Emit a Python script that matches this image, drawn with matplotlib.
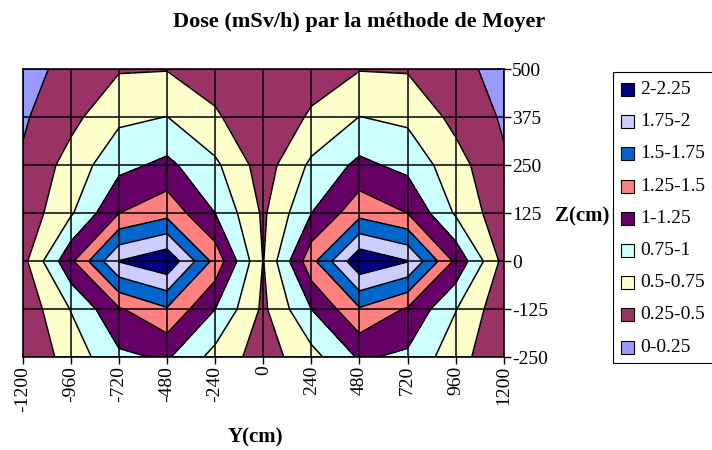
import numpy as np
from matplotlib import pyplot as plt
from matplotlib.patches import Rectangle

# Grid of the measurement points
y_cm = [-1200, -960, -720, -480, -240, 0, 240, 480, 720, 960, 1200]
z_cm = [-250, -125, 0, 125, 250, 375, 500]

# Dose (mSv/h), one row per Z value (bottom to top)
dose_z_m250 = [0.30, 0.60, 0.95, 1.03, 0.66, 0.38, 0.66, 1.03, 0.95, 0.60, 0.30]
dose_z_m125 = [0.32, 0.76, 1.22, 1.47, 1.00, 0.45, 1.00, 1.47, 1.22, 0.76, 0.32]
dose_z_0 = [0.42, 1.20, 2.01, 2.20, 1.42, 0.49, 1.42, 2.20, 2.01, 1.20, 0.42]
dose_z_125 = [0.33, 0.72, 1.25, 1.42, 1.00, 0.46, 1.00, 1.42, 1.25, 0.72, 0.33]
dose_z_250 = [0.28, 0.60, 0.93, 1.06, 0.80, 0.38, 0.80, 1.06, 0.93, 0.60, 0.28]
dose_z_375 = [0.22, 0.43, 0.70, 0.755, 0.53, 0.33, 0.53, 0.755, 0.70, 0.43, 0.22]
dose_z_500 = [0.16, 0.33, 0.48, 0.49, 0.40, 0.30, 0.40, 0.49, 0.48, 0.33, 0.16]

levels = [0, 0.25, 0.5, 0.75, 1.0, 1.25, 1.5, 1.75, 2.0, 2.25]
level_labels = ['0-0.25', '0.25-0.5', '0.5-0.75', '0.75-1', '1-1.25',
                '1.25-1.5', '1.5-1.75', '1.75-2', '2-2.25']
# Excel style palette, lowest band first
band_colors = ['#9999FF', '#993366', '#FFFFCC', '#CCFFFF', '#660066',
               '#FF8080', '#0066CC', '#CCCCFF', '#000080']

plt.rcParams['font.family'] = ['Liberation Serif', 'DejaVu Serif']

dose = np.array([dose_z_m250, dose_z_m125, dose_z_0, dose_z_125,
                 dose_z_250, dose_z_375, dose_z_500])
Y, Z = np.meshgrid(y_cm, z_cm)

W, H = 712, 450
fig = plt.figure(figsize=(W / 100, H / 100), dpi=100)
ax = fig.add_axes([0.032, 0.206, 0.6755, 0.640])

ax.contourf(Y, Z, dose, levels=levels, colors=band_colors)
ax.contour(Y, Z, dose, levels=levels[1:-1], colors='black', linewidths=1.1)

# grid over the bands
for yv in y_cm:
    ax.axvline(yv, color='black', lw=1.1)
for zv in z_cm:
    ax.axhline(zv, color='black', lw=1.1)

ax.set_xlim(-1200, 1200)
ax.set_ylim(-250, 500)
ax.set_xticks(y_cm)
ax.set_xticklabels([str(v) for v in y_cm], rotation=90, fontsize=14)
ax.yaxis.tick_right()
ax.set_yticks(z_cm)
ax.set_yticklabels([str(v) for v in z_cm], fontsize=14)
ax.tick_params(direction='out', length=5, width=1, pad=1)
for sp in ax.spines.values():
    sp.set_linewidth(1.2)

fig.text(0.504, 0.951, 'Dose (mSv/h) par la méthode de Moyer',
         ha='center', va='center', fontsize=16, fontweight='bold')
fig.text(0.358, 0.027, 'Y(cm)', ha='center', va='center',
         fontsize=15, fontweight='bold')
fig.text(555 / W, 1 - 216 / H, 'Z(cm)', ha='left', va='center',
         fontsize=15, fontweight='bold')

# legend box, highest band on top, running off the right edge
fig.patches.append(Rectangle((613 / W, 1 - 363 / H), 0.2, (363 - 72) / H,
                             transform=fig.transFigure, facecolor='white',
                             edgecolor='black', linewidth=0.8))
for i, (lab, col) in enumerate(zip(level_labels[::-1], band_colors[::-1])):
    yc = 89.5 + i * 32.2
    fig.patches.append(Rectangle((620.5 / W, 1 - (yc + 6.5) / H), 13 / W, 13 / H,
                                 transform=fig.transFigure, facecolor=col,
                                 edgecolor='black', linewidth=0.8))
    fig.text(640 / W, 1 - yc / H, lab, ha='left', va='center', fontsize=14)

fig.savefig('out.png', dpi=100)
